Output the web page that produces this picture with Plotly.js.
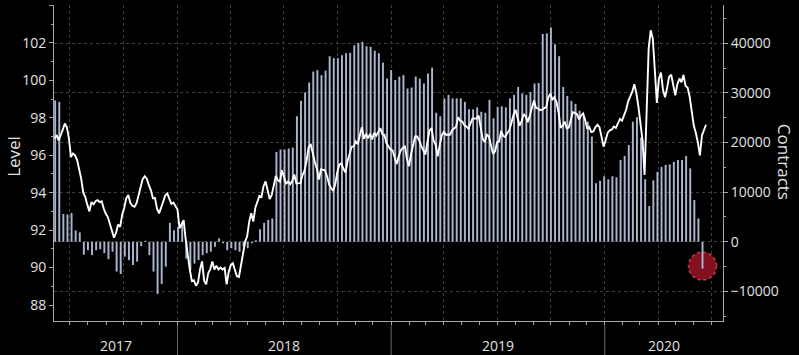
<!DOCTYPE html>
<html>
<head>
<meta charset="utf-8">
<script src="https://cdn.plot.ly/plotly-3.0.1.min.js"></script>
<style>html,body{margin:0;padding:0;background:#000;}#chart{width:799px;height:355px;}</style>
</head>
<body>
<div id="chart"></div>
<script>
// ---- Data ----
const yearLabels = ['2017', '2018', '2019', '2020'];
const xRange = ['2017-06-04', '2020-07-21'];

// Weekly positioning (contracts), first week 2017-06-06
const barStart = '2017-06-06';
const barStepDays = 7;
const contracts = [
  28500, 28200, 5600, 5500, 5800, 2300, 1900, -2600, -1700, -2700,
  -1700, -1500, -2300, -3500, -2000, -6000, -6500, -3000, -3700, -4700,
  -4000, -900, 200, -2700, -6000, -10500, -8500, -5000, 3800, 2300,
  3000, 4000, -3400, -5700, -4400, -3700, -2700, -2300, -2000, -1000,
  700, -300, -1700, -1300, -1700, -2000, -1000, -1300, -300, 300,
  2500, 3800, 4400, 4700, 18100, 18600, 18600, 18800, 19000, 25300,
  28400, 30100, 32100, 34300, 34600, 33600, 34500, 37400, 37000, 37000,
  37600, 38000, 38100, 39600, 40100, 40300, 39400, 39300, 38500, 38000,
  36100, 32900, 34600, 32600, 33300, 33600, 30900, 31100, 33300, 32900,
  31900, 33900, 35100, 26000, 25300, 28900, 29600, 28900, 28900, 28900,
  28200, 26700, 26700, 27100, 26200, 26000, 28600, 24900, 27200, 27300,
  27100, 28900, 29600, 31200, 29900, 29600, 30200, 31900, 32000, 41900,
  42000, 43200, 39800, 37400, 31200, 29400, 28400, 27800, 26400, 25300,
  24200, 21200, 11800, 12300, 13200, 12600, 13200, 13000, 16500, 17300,
  19500, 24200, 25100, 21000, 12600, 7200, 12400, 14100, 15100, 15500,
  15600, 16100, 16500, 16500, 17300, 14800, 8400, 4700, -5400
];

// Level, sampled twice a week from 2017-06-05
const levelStart = '2017-06-05';
const levelStepDays = 3.5;
const level = [
  96.9, 97.08, 96.8, 97.15, 97.37, 97.7, 97.5, 96.9, 95.9, 96.1,
  96.0, 95.74, 95.3, 94.74, 94.0, 93.77, 93.35, 93.0, 93.5, 93.38,
  93.55, 93.6, 93.5, 93.54, 93.15, 92.87, 92.7, 92.3, 91.95, 91.6,
  91.85, 92.3, 92.17, 92.83, 93.2, 93.7, 93.88, 93.45, 93.3, 93.25,
  93.44, 93.86, 94.4, 94.73, 94.88, 94.75, 94.4, 94.14, 93.7, 93.71,
  93.15, 92.9, 93.2, 93.52, 93.85, 93.96, 93.63, 93.4,
  93.47, 93.3, 93.1, 92.1, 92.32, 92.53, 91.5, 90.56, 89.9, 89.28,
  89.32, 89.03, 89.2, 89.9, 90.33, 89.3, 89.1, 89.7, 89.92, 90.33,
  89.9, 90.1, 89.9, 90.0, 89.9, 89.98, 89.1, 89.77, 90.13, 90.23,
  89.84, 89.54, 89.5, 90.1, 90.82, 91.38, 91.67, 92.45, 92.9, 92.46,
  93.2, 93.51, 93.83, 93.77, 94.35, 94.6, 94.03, 93.66, 93.88, 94.5,
  94.9, 94.67, 94.59, 95.2, 94.87, 94.47,
  94.6,
  94.45, 94.63, 94.97, 94.5, 94.52, 94.51, 94.93, 95.18, 95.7, 96.42,
  96.6, 96.1, 95.65, 95.3, 94.7, 95.25, 95.22, 95.2, 94.88, 94.45,
  94.24, 94.1, 94.45, 95.1, 95.5, 95.57, 95.28, 95.07, 95.68, 96.03,
  96.45, 96.47, 96.74, 96.6, 97.06, 97.5, 96.88, 97.15, 96.9, 97.14,
  96.85, 97.2, 97.05, 97.28, 97.45, 97.12, 97.1, 96.65, 96.48, 96.3,
  96.26, 95.86, 95.53, 95.95, 96.27, 96.4,
  96.5,
  95.78, 95.42, 96.07, 96.64, 97.0, 97.0, 96.79, 96.49, 96.22, 96.04,
  96.7, 97.32, 97.45, 96.8, 96.56, 95.95, 96.54, 97.07, 97.26, 97.1,
  97.11, 97.1, 97.33, 97.44, 97.52, 98.04, 97.83, 97.8, 97.61, 97.54,
  97.42, 97.69, 97.97, 97.96, 97.96, 98.12, 97.42, 96.87, 96.7, 97.1,
  97.0, 96.46, 96.08, 96.2, 96.7, 96.74, 97.3, 97.04, 96.97, 97.19,
  97.34, 97.72, 98.16, 98.43, 98.07, 97.58,
  97.83,
  98.2, 98.08, 97.77, 98.13, 98.56, 98.93, 98.53, 98.51, 98.41, 98.44,
  98.52, 98.57, 99.1, 99.29, 98.98, 99.1, 98.85, 98.3, 97.46, 97.58,
  97.8, 97.43, 97.48, 97.9, 98.3, 98.26, 98.2, 97.91, 98.12, 98.23,
  97.89, 97.41, 97.52, 97.24, 97.27, 97.5, 97.63, 97.5, 96.9, 96.46,
  96.8, 97.2, 97.33, 97.38, 97.53, 97.46, 97.7, 97.94, 97.85, 98.16,
  98.43, 98.88, 99.15, 99.4, 99.8, 99.3,
  98.6,
  97.55, 96.8, 94.95, 98.0, 101.7, 102.68, 102.25, 100.56, 98.8, 100.1,
  100.42, 99.49, 99.1, 99.6, 100.2, 100.3, 99.73, 99.2, 99.8, 100.1,
  99.9, 100.3, 99.7, 99.62, 99.14, 98.3, 97.6, 97.2, 96.7, 96.0,
  97.05, 97.35, 97.63
];

// ---- Helpers ----
const DAY = 864e5;
function toMs(s) { const p = s.split('-').map(Number); return Date.UTC(p[0], p[1] - 1, p[2]); }
function fmt(ms) { return new Date(ms).toISOString().slice(0, 19).replace('T', ' '); }

const barX = contracts.map((_, i) => fmt(toMs(barStart) + i * barStepDays * DAY));
const levelX = level.map((_, i) => fmt(toMs(levelStart) + i * levelStepDays * DAY));

const r0 = toMs(xRange[0]), r1 = toMs(xRange[1]);
const yearAnnots = yearLabels.map(y => {
  const a = Math.max(r0, Date.UTC(+y, 0, 1));
  const b = Math.min(r1, Date.UTC(+y + 1, 0, 1));
  return {
    x: fmt((a + b) / 2), xref: 'x', y: -0.076, yref: 'paper',
    text: y, showarrow: false, yanchor: 'middle', xanchor: 'center',
    font: {size: 14, color: '#e0e0e0'}
  };
});
const sepShapes = yearLabels.slice(1).map(y => ({
  type: 'line', xref: 'x', yref: 'paper',
  x0: y + '-01-01', x1: y + '-01-01', y0: -0.013, y1: -0.11,
  line: {color: '#6a6a6a', width: 1}
}));

const lastIdx = contracts.length - 1;
const circle = {
  type: 'circle', xref: 'x', yref: 'y',
  xsizemode: 'pixel', ysizemode: 'pixel',
  xanchor: barX[lastIdx], yanchor: contracts[lastIdx] + 500,
  x0: -14, x1: 14, y0: -14, y1: 14,
  fillcolor: 'rgba(140,18,36,0.92)',
  line: {color: 'rgba(215,60,80,0.9)', width: 1.5, dash: 'dot'},
  layer: 'between'
};

const axisCol = '#a8a8a8';
const gridCol = '#3d3d3d';
const tickFont = {size: 14, color: '#e2e2e2'};

const traces = [
  {
    type: 'bar', x: barX, y: contracts, yaxis: 'y',
    width: 3.3 * DAY,
    marker: {color: '#aab6cf', line: {width: 0}},
    hoverinfo: 'skip'
  },
  {
    type: 'scatter', mode: 'lines', x: levelX, y: level, yaxis: 'y2',
    line: {color: '#ffffff', width: 1.9},
    hoverinfo: 'skip'
  }
];

const layout = {
  width: 799, height: 355,
  paper_bgcolor: '#000000', plot_bgcolor: '#000000',
  margin: {l: 54, r: 76, t: 5, b: 34, pad: 0},
  showlegend: false,
  font: {family: 'Open Sans, sans-serif', color: '#e2e2e2'},
  xaxis: {
    type: 'date', range: xRange,
    tick0: '2017-01-01', dtick: 'M3',
    showticklabels: false,
    ticks: 'outside', ticklen: 3, tickcolor: axisCol,
    showgrid: true, gridcolor: gridCol, griddash: 'dot', gridwidth: 1,
    showline: true, linecolor: axisCol, linewidth: 1,
    zeroline: false,
    minor: {tick0: '2017-01-01', dtick: 'M1', ticks: 'outside', ticklen: 3, tickcolor: axisCol, showgrid: false}
  },
  yaxis: {
    side: 'right', range: [-15968, 47722],
    tick0: 0, dtick: 10000, tickformat: 'd',
    ticks: 'outside', ticklen: 4, tickcolor: axisCol,
    showgrid: true, gridcolor: gridCol, griddash: 'dot', gridwidth: 1,
    showline: true, linecolor: axisCol, linewidth: 1,
    zeroline: false, tickfont: tickFont,
    minor: {dtick: 5000, ticks: 'outside', ticklen: 2, tickcolor: axisCol, showgrid: false}
  },
  yaxis2: {
    overlaying: 'y', side: 'left', range: [87.145, 104.03],
    tick0: 0, dtick: 2,
    ticks: 'outside', ticklen: 4, tickcolor: axisCol,
    showgrid: false, zeroline: false,
    showline: true, linecolor: axisCol, linewidth: 1,
    tickfont: tickFont,
    minor: {dtick: 1, ticks: 'outside', ticklen: 2, tickcolor: axisCol, showgrid: false}
  },
  shapes: sepShapes.concat([circle]),
  annotations: yearAnnots.concat([
    {text: 'Level', xref: 'paper', yref: 'paper', x: -0.061, y: 0.52,
     textangle: -90, showarrow: false, xanchor: 'center', yanchor: 'middle',
     font: {size: 17, color: '#e2e2e2'}},
    {text: 'Contracts', xref: 'paper', yref: 'paper', x: 1.093, y: 0.503,
     textangle: 90, showarrow: false, xanchor: 'center', yanchor: 'middle',
     font: {size: 17, color: '#e2e2e2'}}
  ])
};

Plotly.newPlot('chart', traces, layout, {displayModeBar: false, staticPlot: true});
</script>
</body>
</html>
